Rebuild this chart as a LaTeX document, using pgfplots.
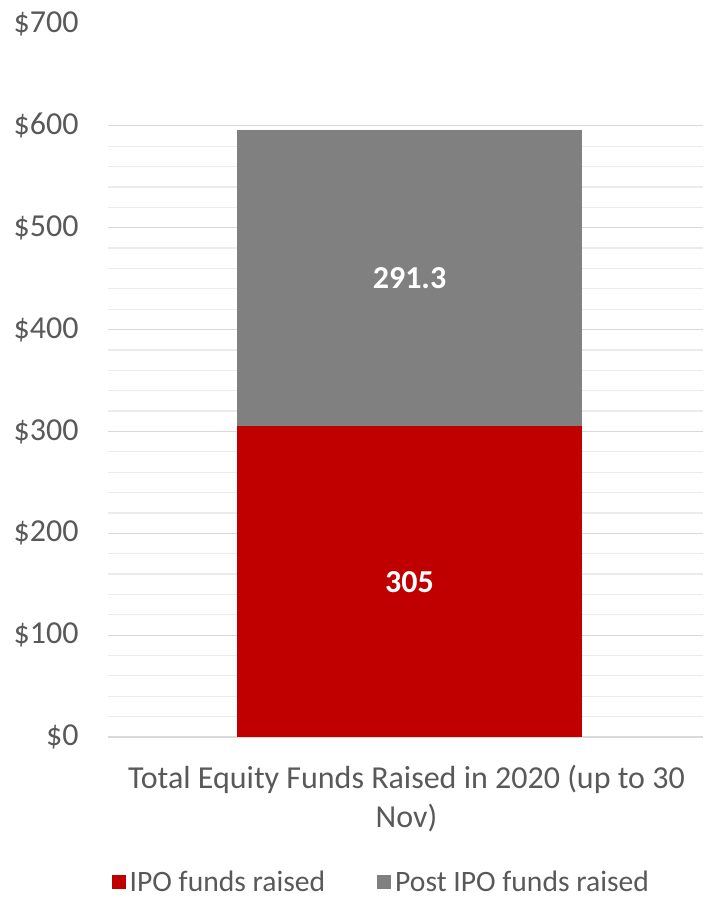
\documentclass[border=0pt]{standalone}
\usepackage{pgfplots}
\pgfplotsset{compat=1.18}
\usepackage{fontspec}
\setmainfont{Carlito}
\definecolor{ipored}{HTML}{C00000}
\definecolor{postgrey}{HTML}{808080}
\definecolor{txt}{HTML}{595959}
\definecolor{majgrid}{HTML}{D9D9D9}
\definecolor{mingrid}{HTML}{EBEBEB}
\newcommand{\chartfont}{\fontsize{16}{19.5}\selectfont}
\newcommand{\legendfont}{\fontsize{14.8}{17}\selectfont}
\begin{document}
\begin{tikzpicture}
\begin{axis}[
  at={(54pt,80pt)}, anchor=south west,
  scale only axis, width=297.5pt, height=356.5pt,
  ybar stacked, bar width=172.5pt,
  xmin=-0.5, xmax=0.4867, ymin=0, ymax=700,
  axis lines*=left,
  y axis line style={draw=none},
  x axis line style={majgrid, line width=0.6pt},
  xtick={0},
  xticklabels={{Total Equity Funds Raised in 2020 (up to 30\\Nov)}},
  xticklabel style={align=center, text=txt, font=\chartfont, yshift=-10.5pt, xshift=-1.5pt},
  ytick={0,100,...,600},
  extra y ticks={700}, extra y tick labels={\$700},
  extra y tick style={grid=none},
  yticklabel={\$\pgfmathprintnumber{\tick}},
  /pgf/number format/assume math mode=true,
  yticklabel style={text=txt, font=\chartfont, inner sep=0pt, xshift=-14.5pt},
  major tick length=0pt, minor tick length=0pt,
  minor y tick num=4,
  ymajorgrids, yminorgrids,
  major grid style={majgrid, line width=0.6pt},
  minor grid style={mingrid, line width=0.6pt},
  legend columns=2,
  legend cell align=left,
  legend style={at={(0.461,-0.2040)}, anchor=center, draw=none, fill=none,
    font=\legendfont, text=txt,
    /tikz/every even column/.append style={column sep=24pt}},
  legend image code/.code={\fill[#1] (0pt,-3.5pt) rectangle (7pt,3.5pt);},
]
\addplot[fill=ipored, draw=none] coordinates {(0,305)};
\addplot[fill=postgrey, draw=none] coordinates {(0,291.3)};
\legend{IPO funds raised, Post IPO funds raised}
\coordinate (ipo) at (axis cs:0,152.5);
\coordinate (post) at (axis cs:0,450.65);
\draw[majgrid, line width=0.6pt] (rel axis cs:0,0) -- ++(0,-4.5pt);
\end{axis}
\node[text=white, font=\chartfont\bfseries] at (ipo) {305};
\node[text=white, font=\chartfont\bfseries] at (post) {291.3};
\pgfresetboundingbox
\path[use as bounding box] (0,0) rectangle (351.5pt,448.5pt);
\end{tikzpicture}
\end{document}
